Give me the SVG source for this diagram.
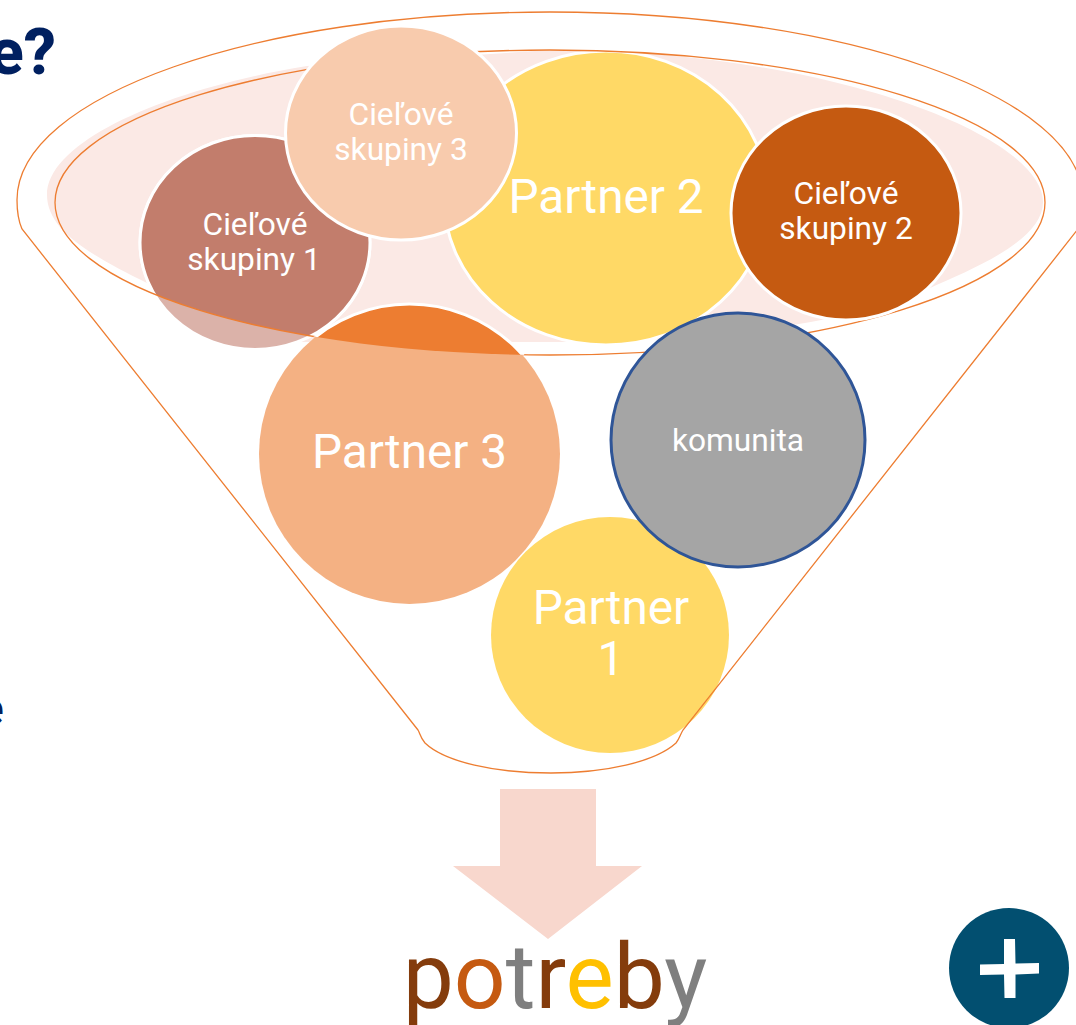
<svg xmlns="http://www.w3.org/2000/svg" width="1076" height="1025" viewBox="0 0 1076 1025">
<style>
text{font-family:Roboto,"Liberation Sans",sans-serif;text-anchor:middle}
.l{fill:#fff}
.s{font-size:31.7px}
.b{font-size:47.7px}
.h{font-family:Roboto,"Liberation Sans",sans-serif;font-weight:800;fill:#002060;text-anchor:end}
.w{stroke:#fff;stroke-width:3}
.o{fill:none;stroke:#ED7D31;stroke-width:1.3}
</style>
<defs>
<clipPath id="in"><ellipse cx="550" cy="202.5" rx="495" ry="152.5"/></clipPath>
</defs>
<rect width="1076" height="1025" fill="#fff"/>
<text class="h" x="56" y="74" font-size="64">e?</text>
<text class="h" x="3.5" y="725" font-size="48">e</text>
<g id="funnel-fill">
<path fill="#FBE9E5" d="M47,195 C47,140 170,88 307,66 L550,50 C823,50 1043,134 1043,202 C1043,240 975,268 930,288 C850,325 700,342 560,342 L300,342 C240,325 190,305 147,283 C90,255 47,230 47,195 Z"/>
</g>
<g id="partner-1"><ellipse cx="610" cy="635" rx="119" ry="118" fill="#FFD966"/><text class="l b" x="611" y="624">Partner</text><text class="l b" x="611" y="675">1</text></g>
<g id="partner-2"><ellipse class="w" cx="606" cy="198" rx="162" ry="147" fill="#FFD966"/><text class="l b" x="606" y="213">Partner 2</text></g>
<g id="ciel-1"><ellipse class="w" cx="255" cy="242.5" rx="115" ry="107" fill="#DBB2A9"/><ellipse clip-path="url(#in)" class="w" cx="255" cy="242.5" rx="115" ry="107" fill="#C27D6C"/><text class="l s" x="255" y="235">Cieľové</text><text class="l s" x="254" y="270">skupiny 1</text></g>
<g id="connectors"><ellipse class="o" cx="550" cy="202.5" rx="495" ry="152.5"/></g>
<g id="ciel-3"><ellipse class="w" cx="401" cy="133" rx="115.5" ry="107" fill="#F8CBAD"/><text class="l s" x="401" y="125">Cieľové</text><text class="l s" x="401" y="160">skupiny 3</text></g>
<g id="ciel-2"><ellipse class="w" cx="846" cy="213" rx="115" ry="107" fill="#C55A11"/><text class="l s" x="846" y="204">Cieľové</text><text class="l s" x="846" y="239">skupiny 2</text></g>
<g id="partner-3"><ellipse cx="409.500" cy="454" rx="150.500" ry="150" fill="#F4B183"/><ellipse clip-path="url(#in)" class="w" cx="409.500" cy="454" rx="150.500" ry="150" fill="#ED7D31"/><text class="l b" x="409.500" y="468">Partner 3</text></g>
<g id="komunita"><ellipse cx="738" cy="440" rx="127" ry="127" fill="#A5A5A5" stroke="#2F5597" stroke-width="3"/><text class="l" font-size="31.700" x="738" y="451">komunita</text></g>
<g id="funnel"><path class="o" d="M22,229 C18,220 17,210 17,200 C17,96 256,12 550,12 C844,12 1083,96 1083,200 C1083,210 1082,220 1078,229 L683,730 C680,735 680,738 676,743 C655,762 605,773 551,773 C495,773 445,762 425,743 C420,737 420,733 418,730 Z"/></g>
<g id="arrow"><path fill="#F8D7CD" d="M500,789 H596 V866 H642 L548,939 L453,866 H500 Z"/></g>
<g id="potreby"><text font-size="91" x="555" y="1008"><tspan fill="#843C0C">p</tspan><tspan fill="#C55A11">o</tspan><tspan fill="#7F7F7F">t</tspan><tspan fill="#843C0C">r</tspan><tspan fill="#FFC000">e</tspan><tspan fill="#843C0C">b</tspan><tspan fill="#7F7F7F">y</tspan></text></g>
<g id="plus"><ellipse cx="1009" cy="968" rx="60" ry="60" fill="#024F70"/><path fill="#fff" d="M1004,939 H1015 L1015.500,963.500 L1039,963 V973.500 L1015.500,974.500 V998 H1004.500 L1004,974.500 L980,975 V964.500 L1004,964 Z"/></g>
</svg>
